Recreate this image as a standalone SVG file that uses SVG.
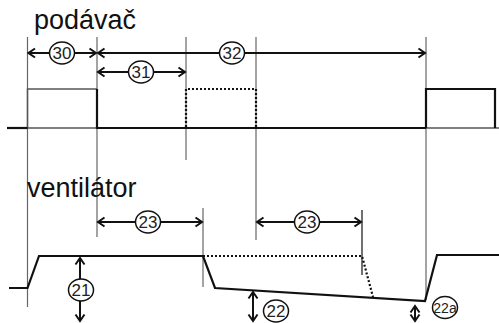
<svg xmlns="http://www.w3.org/2000/svg" width="499" height="323" viewBox="0 0 499 323">
<style>
.title{font-family:"Liberation Sans",Arial,sans-serif;font-size:27px;fill:#111}
.num{font-family:"Liberation Sans",Arial,sans-serif;font-size:17px;fill:#222;text-anchor:middle;dominant-baseline:central}
.small{font-size:14px}
.bub{fill:#fff;stroke:#111;stroke-width:1.5}
.guide{stroke:#666;stroke-width:1.2;fill:none}
.guideb{stroke:#111;stroke-width:1.2;fill:none}
.sig{stroke:#111;stroke-width:2.2;fill:none;stroke-linejoin:miter}
.thin{stroke:#555;stroke-width:1.5;fill:none}
.dot{stroke:#111;stroke-width:2.2;fill:none;stroke-dasharray:2 2}
.arr{stroke:#111;stroke-width:2;fill:none;marker-start:url(#ah);marker-end:url(#ah)}
</style>
<defs>
<marker id="ah" viewBox="-8 -6 10 12" markerWidth="10" markerHeight="12" refX="0" refY="0" orient="auto-start-reverse" markerUnits="userSpaceOnUse">
<path d="M-6.5,-4.5 L0,0 L-6.5,4.5" fill="none" stroke="#111" stroke-width="2"/>
</marker>
</defs>

<!-- guide lines -->
<g id="guides">
<line class="guide" x1="27.5" y1="37" x2="27.5" y2="307"/>
<line class="guide" x1="97" y1="37" x2="97" y2="237"/>
<line class="guide" x1="186" y1="37" x2="186" y2="160"/>
<line class="guide" x1="256" y1="37" x2="256" y2="240"/>
<line class="guide" x1="426" y1="37" x2="426" y2="300"/>
<line class="guide" x1="203" y1="208" x2="203" y2="287"/>
<line class="guideb" x1="362" y1="210" x2="362" y2="275"/>
</g>

<!-- podávač signal -->
<g id="signal-podavac">
<line class="thin" x1="7" y1="128" x2="499" y2="128"/>
<polyline class="thin" points="27.5,128 27.5,89 97,89"/>
<line class="sig" x1="7" y1="128" x2="27.5" y2="128"/>
<polyline class="sig" points="97,89 97,128 426,128"/>
<polyline class="dot" points="186,127 186,89 256,89 256,127"/>
<polyline class="sig" points="426,128 426,89 495,89 495,128"/>
</g>

<!-- ventilátor signal -->
<g id="signal-ventilator">
<polyline class="sig" points="9,288 27.5,288 39,256 203,256 215,288 425,301 437,255 499,255"/>
<polyline class="dot" points="203,256 362,256 373,297"/>
</g>

<g id="label-podavac"><text class="title" x="34" y="29">podávač</text></g>
<g id="label-ventilator"><text class="title" x="27" y="197">ventilátor</text></g>

<!-- connectors -->
<g id="connectors">
<line class="arr" x1="28.5" y1="53" x2="96" y2="53"/>
<line class="arr" x1="98" y1="53" x2="425" y2="53"/>
<line class="arr" x1="98" y1="72" x2="185" y2="72"/>
<line class="arr" x1="98" y1="222" x2="202" y2="222"/>
<line class="arr" x1="257" y1="222" x2="361" y2="222"/>
<line class="arr" x1="80" y1="258" x2="80" y2="321"/>
<line class="arr" x1="253" y1="292" x2="253" y2="321"/>
<line class="arr" x1="415" y1="306" x2="415" y2="321"/>
</g>

<g id="n30"><ellipse class="bub" cx="62" cy="53" rx="12.5" ry="11"/><text class="num" x="62" y="53">30</text></g>
<g id="n32"><ellipse class="bub" cx="232" cy="53" rx="12.5" ry="11"/><text class="num" x="232" y="53">32</text></g>
<g id="n31"><ellipse class="bub" cx="141" cy="72" rx="12.5" ry="11"/><text class="num" x="141" y="72">31</text></g>
<g id="n23a"><ellipse class="bub" cx="148" cy="222" rx="12.5" ry="11"/><text class="num" x="148" y="222">23</text></g>
<g id="n23b"><ellipse class="bub" cx="307" cy="222" rx="12.5" ry="11"/><text class="num" x="307" y="222">23</text></g>
<g id="n21"><ellipse class="bub" cx="81" cy="290" rx="12.5" ry="11"/><text class="num" x="81" y="290">21</text></g>
<g id="n22"><ellipse class="bub" cx="276" cy="311" rx="12.5" ry="11"/><text class="num" x="276" y="311">22</text></g>
<g id="n22a"><ellipse class="bub" cx="445" cy="307.5" rx="12.5" ry="11"/><text class="num small" x="445" y="307.5">22a</text></g>
</svg>
